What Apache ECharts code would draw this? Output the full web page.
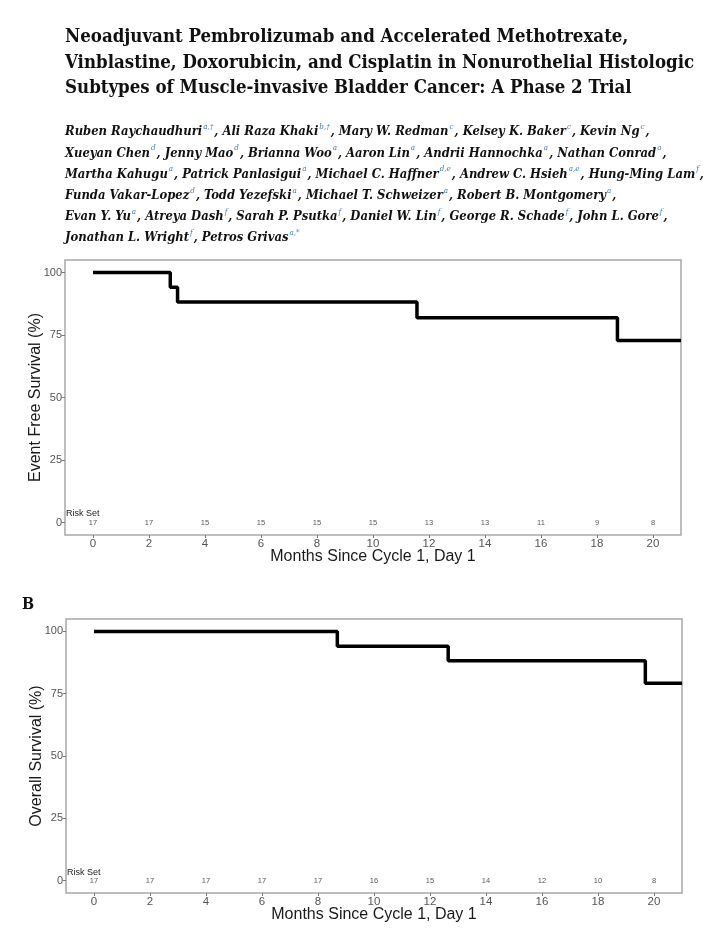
<!DOCTYPE html>
<html><head><meta charset="utf-8">
<script src="https://cdn.jsdelivr.net/npm/echarts@6/dist/echarts.min.js"></script>
<style>html,body{margin:0;padding:0;background:#fff}#c{width:722px;height:940px}</style>
</head><body><div id="c"></div>
<script>
// ---- text ----
const titleLines = [
  'Neoadjuvant Pembrolizumab and Accelerated Methotrexate,',
  'Vinblastine, Doxorubicin, and Cisplatin in Nonurothelial Histologic',
  'Subtypes of Muscle-invasive Bladder Cancer: A Phase 2 Trial'
];
const authorLines = [
  [['Ruben Raychaudhuri','a,\u2020'],['Ali Raza Khaki','b,\u2020'],['Mary W. Redman','c'],['Kelsey K. Baker','c'],['Kevin Ng','c']],
  [['Xueyan Chen','d'],['Jenny Mao','d'],['Brianna Woo','a'],['Aaron Lin','a'],['Andrii Hannochka','a'],['Nathan Conrad','a']],
  [['Martha Kahugu','a'],['Patrick Panlasigui','a'],['Michael C. Haffner','d,e'],['Andrew C. Hsieh','a,e'],['Hung-Ming Lam','f']],
  [['Funda Vakar-Lopez','d'],['Todd Yezefski','a'],['Michael T. Schweizer','a'],['Robert B. Montgomery','a']],
  [['Evan Y. Yu','a'],['Atreya Dash','f'],['Sarah P. Psutka','f'],['Daniel W. Lin','f'],['George R. Schade','f'],['John L. Gore','f']],
  [['Jonathan L. Wright','f'],['Petros Grivas','a,*']]
];
const lineEndsWithComma = [true, true, true, true, true, false];
const panelLabel = 'B';
const xAxisTitle = 'Months Since Cycle 1, Day 1';
const efsAxisTitle = 'Event Free Survival (%)';
const osAxisTitle = 'Overall Survival (%)';
const riskLabel = 'Risk Set';

// ---- axes ----
const xTicks = [0, 2, 4, 6, 8, 10, 12, 14, 16, 18, 20];
const yTicks = [0, 25, 50, 75, 100];

// ---- data ----
const efsTimes = [0, 2.76, 3.02, 11.57, 18.73, 21];
const efsSurv  = [100, 94.1, 88.2, 81.9, 72.8, 72.8];
const osTimes  = [0, 8.69, 12.65, 19.69, 21];
const osSurv   = [100, 94.1, 88.2, 79.2, 79.2];
const riskTimes = [0, 2, 4, 6, 8, 10, 12, 14, 16, 18, 20];
const efsRisk = [17, 17, 15, 15, 15, 15, 13, 13, 11, 9, 8];
const osRisk  = [17, 17, 17, 17, 17, 16, 15, 14, 12, 10, 8];

// ---- build ----
const SANS = "'Liberation Sans', Arial, sans-serif";
const SERIF = "'DejaVu Serif Condensed', 'DejaVu Serif', serif";

function authorRich(line, comma) {
  let s = '';
  line.forEach((p, i) => {
    s += '{n|' + p[0] + '}{s|' + p[1] + '}';
    if (i < line.length - 1 || comma) s += '{n|, }';
  });
  return s;
}

const graphics = [];
const titleY = [38.5, 64.5, 89.5];
titleLines.forEach((t, i) => graphics.push({
  type: 'text', left: 65, top: titleY[i] - 11,
  style: { text: t, font: 'bold 18.5px ' + SERIF, fill: '#111' }
}));
const authorTop = 123;
authorLines.forEach((ln, i) => graphics.push({
  type: 'text', left: 65, top: authorTop + i * 21.2,
  style: {
    text: authorRich(ln, lineEndsWithComma[i]),
    rich: {
      n: { fontFamily: SERIF, fontStyle: 'italic', fontWeight: 'bold', fontSize: 12.9, lineHeight: 18, fill: '#111', verticalAlign: 'middle' },
      s: { fontFamily: SERIF, fontStyle: 'italic', fontSize: 8, lineHeight: 12, fill: '#3d80c0', verticalAlign: 'top', padding: [0, 1, 0, 1] }
    }
  }
}));
graphics.push({ type: 'text', left: 22, top: 597, style: { text: panelLabel, font: 'bold 16px ' + SERIF, fill: '#111' } });
graphics.push({ type: 'text', left: 66, top: 509, style: { text: riskLabel, font: '9px ' + SANS, fill: '#222' } });
graphics.push({ type: 'text', left: 67, top: 868, style: { text: riskLabel, font: '9px ' + SANS, fill: '#222' } });

function xAx(gi) {
  return {
    type: 'value', gridIndex: gi, min: -1, max: 21,
    axisLine: { show: false, onZero: false },
    axisTick: { show: true, customValues: xTicks, length: 3, lineStyle: { color: '#777', width: 1 } },
    axisLabel: { customValues: xTicks, color: '#555', fontSize: 11.5, fontFamily: SANS, margin: 3 },
    splitLine: { show: false },
    name: xAxisTitle, nameLocation: 'middle', nameGap: 14, nameMoveOverlap: false,
    nameTextStyle: { fontSize: 16, color: '#1a1a1a', fontFamily: SANS, verticalAlign: 'top' }
  };
}
function yAx(gi, name) {
  return {
    type: 'value', gridIndex: gi, min: -5, max: 105,
    axisLine: { show: false, onZero: false },
    axisTick: { show: true, customValues: yTicks, length: 3, lineStyle: { color: '#777', width: 1 } },
    axisLabel: { customValues: yTicks, color: '#555', fontSize: 11, fontFamily: SANS, margin: 3 },
    splitLine: { show: false },
    name: name, nameLocation: 'middle', nameGap: 21, nameMoveOverlap: false,
    nameTextStyle: { fontSize: 16, color: '#1a1a1a', fontFamily: SANS }
  };
}
function kmSeries(gi, times, surv) {
  return {
    type: 'line', xAxisIndex: gi, yAxisIndex: gi, step: 'end', symbol: 'none',
    data: times.map((t, i) => [t, surv[i]]),
    lineStyle: { color: '#000', width: 3.5 }, silent: true
  };
}
function riskSeries(gi, risk) {
  return {
    type: 'scatter', xAxisIndex: gi, yAxisIndex: gi, symbolSize: 1,
    itemStyle: { color: 'rgba(0,0,0,0)' },
    data: riskTimes.map((t, i) => [t, 0, risk[i]]),
    label: { show: true, position: 'inside', formatter: p => String(p.data[2]), fontSize: 7.5, color: '#2a2a2a', fontFamily: SANS },
    silent: true
  };
}

const chart = echarts.init(document.getElementById('c'), null, { renderer: 'canvas' });
chart.setOption({
  animation: false,
  backgroundColor: '#fff',
  grid: [
    { left: 65, top: 260, width: 616, height: 275, show: true, borderColor: '#a8a8a8', borderWidth: 1.5, backgroundColor: 'transparent' },
    { left: 66, top: 619, width: 616, height: 274, show: true, borderColor: '#a8a8a8', borderWidth: 1.5, backgroundColor: 'transparent' }
  ],
  xAxis: [xAx(0), xAx(1)],
  yAxis: [yAx(0, efsAxisTitle), yAx(1, osAxisTitle)],
  series: [kmSeries(0, efsTimes, efsSurv), riskSeries(0, efsRisk), kmSeries(1, osTimes, osSurv), riskSeries(1, osRisk)],
  graphic: graphics
});
</script></body></html>
